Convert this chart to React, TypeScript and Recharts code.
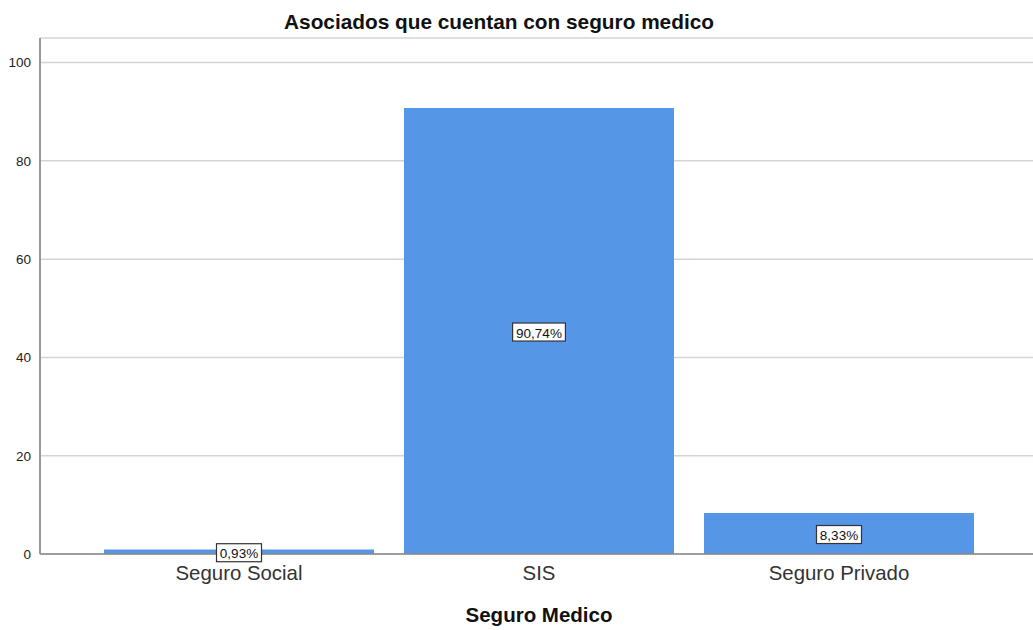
import { BarChart, Bar, XAxis, YAxis, CartesianGrid, LabelList } from 'recharts';

const categories = ['Seguro Social', 'SIS', 'Seguro Privado'];
const percentages = [0.93, 90.74, 8.33];
const yTicks = [0, 20, 40, 60, 80, 100];

const data = categories.map((name, i) => ({ name, value: percentages[i] }));

const font = '"Liberation Sans", Arial, sans-serif';

function BoxLabel(props: any) {
  const { x, y, width, height, value } = props;
  const text = `${Number(value).toFixed(2).replace('.', ',')}%`;
  const cx = x + width / 2;
  const cy = y + height / 2 + 1;
  const w = text.length * 7.8 + 6;
  const h = 18;
  return (
    <g>
      <rect x={cx - w / 2} y={cy - h / 2} width={w} height={h} fill="#fff" stroke="#333" strokeWidth={1.2} />
      <text x={cx} y={cy + 1} textAnchor="middle" dominantBaseline="central" fontSize={13.5} fill="#111" fontFamily={font}>
        {text}
      </text>
    </g>
  );
}

export default function App() {
  return (
    <div style={{ position: 'absolute', left: 0, top: 0, width: 1033, height: 630, background: '#fff', fontFamily: font }}>
      <div style={{ position: 'absolute', top: 9, width: 998, left: 0, textAlign: 'center', fontSize: 20.8, fontWeight: 'bold', color: '#111', lineHeight: '26px' }}>
        Asociados que cuentan con seguro medico
      </div>
      <BarChart
        width={1033}
        height={630}
        data={data}
        margin={{ top: 38, right: 0, left: 0, bottom: 46 }}
        barCategoryGap="5%"
      >
        <CartesianGrid vertical={false} stroke="#d4d4d4" strokeWidth={1.5} />
        <XAxis
          dataKey="name"
          height={30}
          padding={{ left: 49, right: 44 }}
          tickLine={false}
          axisLine={{ stroke: '#888', strokeWidth: 1.5 }}
          tick={{ fontSize: 20.4, fill: '#333', fontFamily: font }}
          tickMargin={6}
        />
        <YAxis
          width={40}
          domain={[0, 105]}
          ticks={yTicks}
          tickLine={false}
          axisLine={{ stroke: '#999', strokeWidth: 2 }}
          tick={{ fontSize: 13.5, fill: '#222', fontFamily: font }}
          tickMargin={3}
        />
        <Bar dataKey="value" fill="#5596E6" isAnimationActive={false}>
          <LabelList dataKey="value" content={BoxLabel} />
        </Bar>
      </BarChart>
      <div style={{ position: 'absolute', top: 602, width: 1078, left: 0, textAlign: 'center', fontSize: 20.5, fontWeight: 'bold', color: '#111', lineHeight: '26px' }}>
        Seguro Medico
      </div>
    </div>
  );
}
